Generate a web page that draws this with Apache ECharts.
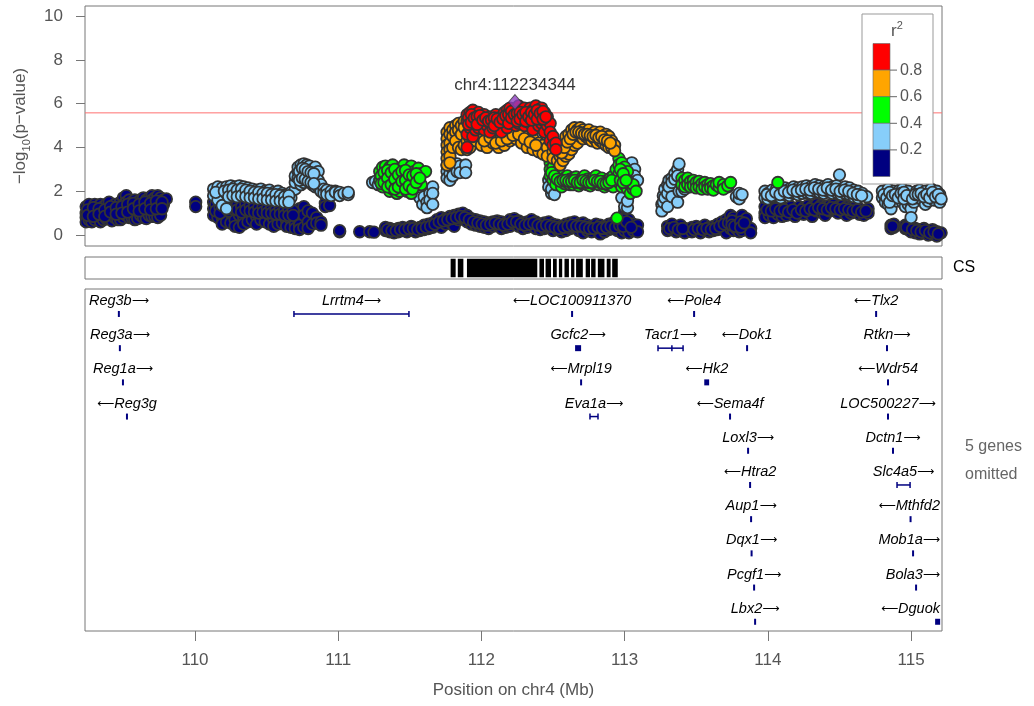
<!DOCTYPE html>
<html><head><meta charset="utf-8">
<script src="https://cdn.jsdelivr.net/npm/echarts@6/dist/echarts.min.js"></script>
<style>html,body{margin:0;padding:0;background:#fff}#c{width:1034px;height:706px}</style>
</head><body><div id="c"></div>
<script>
// ---------- DATA ----------
// rows: [position (Mb), -log10(p) values at that position ...]
const navyRows = [
[109.24,1.3,1.0,0.8,0.6],[109.26,1.4,1.1,0.7],[109.28,1.2,0.9,0.6],[109.30,1.4,1.0,0.7],[109.32,1.3,1.1,0.8],
[109.34,1.4,1.2,0.6],[109.36,1.3,0.9,0.7],[109.38,1.4,1.0,0.75],[109.40,1.5,1.2,0.8],[109.42,1.3,1.0,0.65],
[109.44,1.4,1.1,0.8],[109.46,1.2,0.9,0.7],[109.48,1.5,1.0,0.7],[109.50,1.7,1.4,1.1,0.8],[109.52,1.8,1.5,1.2,0.9],
[109.54,1.6,1.3,1.0,0.8],[109.56,1.5,1.3,1.1,0.8],[109.58,1.6,1.4,0.9,0.7],[109.60,1.5,1.2,1.0,0.75],[109.62,1.6,1.3,0.9],
[109.64,1.7,1.4,1.1,0.8],[109.66,1.6,1.3,1.0,0.75],[109.68,1.7,1.5,0.9],[109.70,1.8,1.6,1.2,0.85],[109.72,1.7,1.4,0.85],
[109.74,1.8,1.5,1.1,0.8],[109.76,1.7,1.4,0.9],[109.78,1.6,1.4],[109.80,1.65],
[109.25,1.15,0.9],[109.29,1.25,0.85],[109.33,1.2,0.95],[109.37,1.15,0.85],[109.41,1.3,1.05],[109.45,1.25,0.95],
[109.49,1.3,1.0],[109.53,1.4,1.05],[109.57,1.45,1.2],[109.61,1.4,1.1],[109.65,1.5,1.2],[109.69,1.45,1.15],
[109.73,1.55,1.2],[109.77,1.5,1.2],
[110.005,1.5,1.3],
[110.13,1.5,1.2,0.9],[110.16,1.3,1.0,0.8],[110.19,1.1,0.8,0.5],[110.22,1.4,0.9,0.6],[110.25,1.3,1.0,0.55],
[110.28,1.5,1.1,0.7,0.4],[110.31,1.4,0.9,0.35],[110.34,1.2,0.8,0.5],[110.37,1.3,1.0,0.6],[110.40,1.4,0.9,0.7],
[110.43,1.2,0.85,0.5],[110.46,1.3,0.95,0.7],[110.49,1.1,0.8,0.6],[110.52,1.2,0.9,0.5],[110.55,1.1,0.7,0.4],
[110.58,1.0,0.75,0.5],[110.61,1.05,0.8,0.55],[110.64,0.9,0.65,0.4],[110.67,1.0,0.7,0.35],[110.70,0.8,0.5,0.3],
[110.73,1.2,0.7,0.45,0.25],[110.76,1.3,0.9,0.35],[110.79,1.1,0.6,0.3],[110.82,1.0,0.5],[110.85,0.8,0.55],
[110.88,0.6,0.45],[110.91,1.45,1.3],[110.94,1.35],
[110.145,1.4,1.1],[110.175,1.25,1.0],[110.235,1.3,1.1],[110.265,1.4,1.2],[110.295,1.35,1.15],[110.325,1.3,1.05],
[110.355,1.4,1.15],[110.385,1.35,1.1],[110.415,1.3,1.05],[110.445,1.25,1.0],[110.475,1.3,1.05],[110.505,1.2,1.0],
[110.535,1.25,1.0],[110.565,1.15,0.95],[110.595,1.2,0.95],[110.625,1.1,0.9],[110.655,1.15,0.9],[110.685,1.1,0.9],
[111.01,0.15,0.2],[111.15,0.15],[111.22,0.15],[111.25,0.13],
[111.33,0.2,0.35],[111.36,0.15,0.3],[111.39,0.25,0.1],[111.42,0.3,0.15],[111.45,0.2,0.35],[111.48,0.15,0.3],
[111.51,0.25,0.4],[111.54,0.3,0.15],[111.57,0.35,0.2],[111.60,0.45,0.25],[111.63,0.5,0.3],[111.66,0.55,0.35],
[111.69,0.7,0.45],[111.72,0.8,0.55,0.35],[111.75,0.75,0.5],[111.78,0.85,0.6],[111.81,0.9,0.65,0.4],
[111.84,0.95,0.7],[111.87,1.0,0.75],[111.90,0.9,0.6],[111.93,0.75,0.5],[111.96,0.7,0.45],[111.99,0.65,0.4],
[112.02,0.6,0.35],[112.05,0.55,0.3],[112.08,0.6,0.4],[112.11,0.65,0.45],[112.14,0.6,0.3],[112.17,0.55,0.35],
[112.20,0.7,0.4],[112.23,0.75,0.5],[112.26,0.65,0.4],[112.29,0.55,0.3],[112.32,0.6,0.35],[112.35,0.7,0.45],
[112.38,0.6,0.3],[112.41,0.5,0.25],[112.44,0.55,0.3],[112.47,0.6,0.35],[112.50,0.5,0.2],[112.53,0.45,0.25],
[112.56,0.4,0.15],[112.59,0.5,0.2],[112.62,0.55,0.3],[112.65,0.6,0.35],[112.68,0.5,0.2],[112.71,0.55,0.3,0.1],
[112.74,0.45,0.2],[112.77,0.4,0.15],[112.80,0.5,0.25],[112.83,0.45,0.2,0.05],[112.86,0.4,0.15],[112.89,0.5,0.25],
[112.92,0.55,0.3],[112.95,0.45,0.2],[112.98,0.6,0.35,0.1],[113.00,1.1,0.8,0.5,0.2],[113.03,0.7,0.4,0.1],
[113.06,0.5,0.2],[113.09,0.45,0.15],
[111.345,0.25],[111.375,0.2],[111.405,0.2],[111.435,0.25],[111.465,0.25],[111.495,0.3],[111.525,0.3],[111.555,0.25],
[111.585,0.3],[111.615,0.35],[111.645,0.4],[111.675,0.5],[111.705,0.6],[111.735,0.65],[111.765,0.7],[111.795,0.75],
[111.825,0.8],[111.855,0.85],[111.885,0.8],[111.915,0.7],[111.945,0.6],[111.975,0.55],[112.005,0.5],[112.035,0.45],
[112.065,0.5],[112.095,0.55],[112.125,0.5],[112.155,0.45],[112.185,0.5],[112.215,0.6],[112.245,0.6],[112.275,0.5],
[112.305,0.45],[112.335,0.5],[112.365,0.55],[112.395,0.45],[112.425,0.4],[112.455,0.45],[112.485,0.4],[112.515,0.35],
[112.545,0.3],[112.575,0.35],[112.605,0.4],[112.635,0.45],[112.665,0.4],[112.695,0.4],[112.725,0.35],[112.755,0.3],
[112.785,0.3],[112.815,0.35],[112.845,0.3],[112.875,0.35],[112.905,0.4],[112.935,0.35],[112.965,0.45],[112.99,0.7,0.4],
[113.015,0.6],[113.045,0.35],
[113.30,0.4,0.2],[113.33,0.5,0.25],[113.36,0.35,0.15],[113.39,0.45,0.2],[113.42,0.3,0.1],[113.47,0.35,0.15],
[113.50,0.4,0.2],[113.53,0.3,0.1],[113.56,0.45,0.2],[113.59,0.35,0.15],[113.62,0.4,0.2],[113.65,0.5,0.25],
[113.68,0.6,0.3],[113.71,0.7,0.4,0.1],[113.74,0.9,0.6,0.3],[113.76,0.8,0.5,0.2],[113.78,0.6,0.3],[113.80,0.4,0.15],
[113.82,0.9,0.5,0.2],[113.85,0.75,0.4],[113.88,0.3,0.1],
[113.315,0.3],[113.345,0.35],[113.375,0.25],[113.405,0.3],[113.485,0.25],[113.515,0.3],[113.545,0.25],[113.575,0.3],
[113.605,0.25],[113.635,0.3],[113.665,0.4],[113.695,0.5],[113.725,0.55],[113.75,0.65,0.45],[113.77,0.4],
[113.81,0.6,0.35],[113.835,0.55],
[113.98,1.3,1.0,0.8],[114.01,1.2,0.9],[114.04,1.35,1.05,0.8],[114.07,1.25,0.95],[114.10,1.3,1.0,0.85],
[114.13,1.2,0.9],[114.16,1.3,1.05],[114.19,1.15,0.85],[114.22,1.3,1.0],[114.25,1.25,0.95],[114.28,1.35,1.05],
[114.31,1.3,1.0,0.85],[114.34,1.4,1.1],[114.37,1.35,1.05],[114.40,1.3,1.0,0.9],[114.43,1.35,1.1],[114.46,1.4,1.15],
[114.49,1.3,1.0],[114.52,1.35,1.1],[114.55,1.3,1.05,0.9],[114.58,1.25,1.0],[114.61,1.3,1.05],[114.64,1.2,0.95],
[114.67,1.1,0.9],[114.70,1.2,1.0],
[113.995,1.15],[114.025,1.1],[114.055,1.2],[114.085,1.1],[114.115,1.15],[114.145,1.05],[114.175,1.15],[114.205,1.0],
[114.235,1.15],[114.265,1.1],[114.295,1.2],[114.325,1.15],[114.355,1.25],[114.385,1.2],[114.415,1.15],[114.445,1.25],
[114.475,1.2],[114.505,1.15],[114.535,1.2],[114.565,1.15],[114.595,1.1],[114.625,1.15],[114.655,1.05],[114.685,1.1],
[114.86,0.45,0.3],[114.88,0.5,0.35],[114.96,0.45,0.3],[114.98,0.5,0.25],[115.00,0.35,0.15],[115.03,0.3,0.1],
[115.06,0.25,0.05],[115.09,0.3,0.1],[115.12,0.2,0.0],[115.15,0.25,0.05],[115.18,0.15,-0.05],[115.21,0.1],
[114.87,0.4],[114.97,0.35],[115.01,0.25],[115.04,0.2],[115.07,0.15],[115.10,0.2],[115.13,0.1],[115.16,0.15],[115.19,0.05]
];
const lightBlueRows = [
[110.13,2.1,1.8],[110.16,2.2,1.6],[110.19,2.15,1.35],[110.22,2.2,1.9,1.2],[110.25,2.25,2.0],[110.28,2.2,1.9],
[110.31,2.25,1.95],[110.34,2.2,2.0],[110.37,2.15,1.9],[110.40,2.1,1.85],[110.43,2.05,1.9],[110.46,2.1,1.8],
[110.49,2.0,1.75],[110.52,2.05,1.8],[110.55,1.95,1.7],[110.58,2.0,1.75],[110.61,1.9,1.8],[110.64,1.85,1.6],
[110.67,1.95,1.7],[110.70,2.1,2.4,2.7],[110.72,2.9,3.1,2.6],[110.74,3.2,3.0,2.8,2.3],[110.76,3.25,2.9,2.4],
[110.78,3.1,3.2,2.7],[110.80,3.15,2.9,2.5],[110.82,3.0,2.75,2.3],[110.84,3.1,2.6,2.2],[110.86,2.9,2.5,2.2],
[110.88,2.3,2.0],[110.90,2.1,1.9],[110.92,2.05,1.85],[110.95,2.0,1.8],[110.98,2.0,1.95],[111.01,1.95,1.8],
[111.04,1.9],[111.07,1.85,1.95],
[110.145,1.95],[110.205,2.0],[110.235,2.05,1.75],[110.265,2.1,1.8],[110.295,2.05,1.75],[110.325,2.1,1.8],
[110.355,2.05,1.75],[110.385,2.0,1.7],[110.415,1.95,1.7],[110.445,1.95,1.65],[110.475,1.9,1.65],[110.505,1.9,1.6],
[110.535,1.85,1.6],[110.565,1.85,1.55],[110.595,1.8,1.55],[110.625,1.75,1.5],[110.655,1.8,1.5],[110.73,2.9,2.5],
[110.75,3.05,2.6],[110.77,3.0,2.55],[110.79,2.9,2.45],[110.81,2.85,2.4],[110.83,2.8,2.35],
[111.24,2.4],[111.26,2.45],[111.28,2.3],
[111.55,2.0],[111.57,1.7],[111.59,1.4],[111.60,1.75],[111.62,1.5,1.25],[111.64,1.9,1.6],[111.66,2.2,1.9,1.4],
[111.76,3.2,2.9,2.6],[111.78,3.1,2.8,2.5],[111.80,3.3,3.0,2.7],[111.83,3.25,2.9],[111.85,3.15,2.85],[111.89,3.2,2.85],
[112.47,2.5,2.2],[112.49,1.9,2.1],[112.51,1.85],
[112.98,1.7],[113.00,1.3],[113.02,1.25,1.55],[113.05,3.3],[113.07,3.0,2.7],[113.09,2.5],
[113.26,1.4,1.1],[113.27,1.8,1.5],[113.28,2.1,1.7],[113.30,2.3,1.9,1.3],[113.31,2.5,2.2],[113.33,2.6,2.4,1.75],
[113.35,2.8,2.55],[113.37,3.0,2.7,1.5],[113.38,3.25,2.0],[113.40,2.3,2.0],[113.42,2.1],
[113.72,2.2],[113.78,1.75],[113.80,1.65,1.9],[113.82,1.85],
[113.98,2.0,1.7],[114.00,1.9,1.65],[114.03,2.05,1.75],[114.06,2.1,1.8],[114.09,2.0,1.7],[114.12,2.15,1.85],
[114.15,2.1,1.8],[114.18,2.2,1.9],[114.21,2.15,1.85],[114.24,2.2,1.9],[114.27,2.25,1.95],[114.30,2.2,1.9],
[114.33,2.3,2.0],[114.36,2.25,1.95],[114.39,2.2,1.9],[114.42,2.3,2.0],[114.45,2.2,1.9],[114.48,2.25,1.95],
[114.50,2.75],[114.51,2.1,1.85],[114.54,2.2,1.9],[114.57,2.15,1.85],[114.60,2.05,1.75],[114.63,2.0,1.7],
[114.66,1.9],[114.69,1.75],
[113.995,1.85],[114.025,1.8],[114.055,1.95],[114.085,1.85],[114.115,2.0],[114.145,1.95],[114.175,2.05],[114.205,2.0],
[114.235,2.05],[114.265,2.1],[114.295,2.05],[114.325,2.15],[114.355,2.1],[114.385,2.05],[114.415,2.15],[114.445,2.05],
[114.475,2.1],[114.505,2.0],[114.535,2.05],[114.565,2.0],[114.595,1.9],[114.625,1.85],[114.655,1.8],
[114.80,2.0,1.7],[114.82,1.85,1.5],[114.84,2.1,1.8,1.4],[114.86,1.9,1.6,1.2],[114.88,2.0,1.7],[114.90,1.9,1.55],
[114.92,2.05,1.75],[114.94,2.1,1.8,1.5],[114.96,1.9,1.6,1.3],[114.98,2.0,1.7,1.4],[115.00,1.5,1.2,0.8],
[115.02,1.8,1.5],[115.04,2.0,1.7],[115.06,2.05,1.75],[115.08,1.9,1.6],[115.10,2.0,1.7,1.4],[115.12,1.85,1.55],
[115.14,2.1,1.8],[115.16,1.9,1.6],[115.18,2.0,1.75],[115.20,1.85,1.5],[115.22,1.7],
[114.81,1.85],[114.83,1.7],[114.85,1.95,1.5],[114.87,1.8],[114.89,1.85],[114.91,1.7],[114.93,1.9],[114.95,1.95,1.65],
[114.97,1.8],[115.01,1.65],[115.03,1.85],[115.05,1.85],[115.07,1.9],[115.09,1.75],[115.11,1.85],[115.13,1.7],
[115.15,1.95],[115.17,1.75],[115.19,1.85],[115.21,1.65]
];
const greenRows = [
[111.29,2.9,2.5],[111.31,3.1,2.6,2.2],[111.33,3.15,2.8,2.4],[111.36,3.1,2.5,2.0],[111.38,3.2,2.7,2.1],
[111.41,2.9,2.4,1.9],[111.43,3.05,2.6,2.0],[111.46,3.2,2.7,2.2],[111.48,2.8,2.4,2.0],[111.51,3.15,2.5,1.9],
[111.53,2.9,2.3],[111.56,3.05,2.6],[111.58,2.8,2.3],[111.61,2.9],
[111.30,2.7,2.35],[111.32,2.85,2.4],[111.345,2.95,2.6,2.2],[111.37,2.85,2.3],[111.395,3.0,2.55,2.1],[111.42,2.75,2.2],
[111.445,2.9,2.45],[111.47,2.95,2.5,2.1],[111.495,2.75,2.25],[111.52,2.7,2.1],[111.545,2.8,2.4],[111.57,2.6],
[112.48,3.3,3.0,2.7],[112.50,3.1,2.8,2.5],[112.52,2.9,2.6,2.3],[112.54,2.8,2.5],[112.56,2.7,2.4,2.2],
[112.58,2.6,2.35],[112.60,2.7,2.4],[112.62,2.55,2.3],[112.64,2.6,2.3],[112.66,2.65,2.4],[112.68,2.5,2.25],
[112.70,2.6,2.35],[112.72,2.7,2.4],[112.74,2.55,2.3],[112.76,2.5,2.25],[112.78,2.6,2.35],[112.80,2.7,2.4],
[112.82,2.5,2.3],[112.84,2.6,2.35],[112.86,2.45,2.2],[112.88,2.5,2.3],[112.90,2.6,2.4],[112.92,2.7,2.2],
[112.94,3.0,2.5],[112.947,0.77],[112.96,3.5,3.2,2.8,2.4],[112.98,3.3,3.0,2.6,2.2],[113.00,3.1,2.7,2.3],
[113.02,2.9,2.5,2.1],[113.04,2.3,1.9],[113.06,2.1,2.3],[113.08,2.0],
[112.49,2.85],[112.51,2.7],[112.53,2.55],[112.55,2.45],[112.57,2.5],[112.59,2.5],[112.61,2.45],[112.63,2.45],
[112.65,2.5],[112.67,2.4],[112.69,2.4],[112.71,2.5],[112.73,2.45],[112.75,2.4],[112.77,2.4],[112.79,2.5],
[112.81,2.45],[112.83,2.45],[112.85,2.35],[112.87,2.35],[112.89,2.4],[112.91,2.5],[112.97,3.0,2.5],[112.99,2.8,2.4],
[113.01,2.5],
[113.40,2.6,2.3],[113.42,2.5,2.2],[113.44,2.6,2.3],[113.46,2.45,2.2],[113.48,2.5,2.25],[113.50,2.4,2.15],
[113.52,2.45,2.2],[113.54,2.35,2.1],[113.56,2.4,2.2],[113.58,2.3,2.1],[113.60,2.35,2.15],[113.62,2.25,2.05],
[113.64,2.3],[113.66,2.2,2.4],[113.69,2.3,2.1],[113.72,2.25],[113.74,2.4],
[114.07,2.4]
];
const orangeRows = [
[111.76,4.7,4.4,4.1,3.8,3.5,3.2],[111.78,4.9,4.6,4.2,3.9,3.6,3.3],[111.80,4.8,4.5,4.0],[111.82,5.0,4.7,4.3],
[111.84,5.1,4.8,4.0],[111.86,5.0,4.6,3.9],[111.88,5.2,4.9,4.1],[111.90,4.3,3.9],[111.92,4.4,4.0],[111.96,4.3],
[112.00,4.5,4.1],[112.04,4.3,4.0],[112.08,4.6,4.2],[112.12,4.4,4.0],[112.16,4.5,4.1],[112.20,4.7,4.3],
[112.24,4.8,4.4],[112.28,4.6,4.2],[112.32,4.5,4.0],[112.36,4.4,3.9],[112.40,4.2,3.8],[112.43,4.1,3.7],
[112.46,4.0,3.6],[112.50,3.8,3.5],[112.53,3.9,3.4],[112.55,3.9,3.6,3.2],[112.57,4.2,3.8,3.4],
[112.59,4.5,4.0,3.6],[112.61,4.6,4.2,3.7],[112.63,4.8,4.4,3.9],[112.65,4.9,4.5,4.1],[112.67,4.8,4.6,4.2],
[112.69,4.9,4.5],[112.71,4.8,4.4],[112.73,4.7,4.5],[112.75,4.8,4.4],[112.77,4.6,4.3],[112.79,4.7,4.4],
[112.81,4.6,4.2],[112.83,4.7,4.3],[112.85,4.5,4.2],[112.87,4.6,4.1],[112.89,4.5,4.0],[112.91,4.3,4.0],
[112.93,4.1,3.85],
[112.02,4.3],[112.06,4.45],[112.10,4.2],[112.14,4.3],[112.18,4.4],[112.22,4.55],[112.26,4.6],[112.30,4.4],
[112.34,4.25],[112.38,4.1],[112.56,3.75],[112.58,4.0],[112.60,4.25],[112.62,4.4],[112.64,4.6],[112.66,4.7],
[112.68,4.7],[112.70,4.65],[112.72,4.6],[112.74,4.6],[112.76,4.55],[112.78,4.5],[112.80,4.55],[112.82,4.45],
[112.84,4.5],[112.86,4.35],[112.88,4.3],[112.90,4.2]
];
const redRows = [
[111.90,5.5,5.2,4.6,4.0],[111.92,5.6,5.3,4.9],[111.94,5.7,5.4,5.0,4.5],[111.96,5.5,5.2,4.8],[111.98,5.6,5.3,4.9],
[112.00,5.4,5.1],[112.02,5.5,5.2,4.8],[112.04,5.3,5.0],[112.06,5.4,5.1,4.7],[112.08,5.2,4.9],[112.10,5.5,5.1],
[112.12,5.3,5.0],[112.14,5.4,5.1,4.7],[112.16,5.6,5.2],[112.18,5.7,5.3,4.9],[112.20,5.8,5.5,5.1],[112.22,5.6,5.3],
[112.24,5.7,5.4,5.0],[112.26,5.9,5.5,5.1],[112.28,5.7,5.3],[112.30,5.8,5.4,5.0],[112.32,5.6,5.2],
[112.34,5.8,5.5,5.1],[112.36,5.7,5.3,4.8],[112.38,5.9,5.5],[112.40,5.7,5.4,5.0],[112.42,5.8,5.5,5.1],
[112.44,5.6,5.2,4.7],[112.46,5.4,5.0],[112.48,5.1,4.7,4.3],[112.50,4.5,4.1],[112.52,4.2,3.9],
[111.91,5.35,5.05],[111.93,5.5,5.15],[111.95,5.35],[111.97,5.4,5.05],[111.99,5.45],[112.01,5.25],[112.03,5.35],
[112.05,5.2],[112.07,5.25],[112.09,5.35,5.0],[112.11,5.3],[112.13,5.15],[112.15,5.3],[112.17,5.45],[112.19,5.5,5.1],
[112.21,5.65,5.35],[112.23,5.5],[112.25,5.55,5.2],[112.27,5.6,5.3],[112.29,5.5],[112.31,5.6,5.2],[112.33,5.4],
[112.35,5.6,5.25],[112.37,5.5],[112.39,5.7,5.3],[112.41,5.55],[112.43,5.65,5.3],[112.45,5.4]
];
const leadSnp = {name:'chr4:112234344', pos:112.234344, logp:6.07};
const sigLine = 5.58;

const r2Colors = ['#FF0000','#FFA500','#00FF00','#87CEFA','#000080'];
const r2Labels = ['0.8','0.6','0.4','0.2'];

const xTicks = [110,111,112,113,114,115];
const yTicks = [0,2,4,6,8,10];

// credible set intervals (Mb)
const csIntervals = [
[111.785,111.820],[111.835,111.874],[111.899,112.390],[112.405,112.437],[112.448,112.486],
[112.500,112.526],[112.541,112.564],[112.580,112.611],[112.626,112.649],[112.661,112.708],
[112.728,112.758],[112.766,112.797],[112.813,112.859],[112.875,112.902],[112.913,112.952]
];

// genes: name, start, end (Mb), strand, row
const geneNames   = ['Reg3b','Lrrtm4','LOC100911370','Pole4','Tlx2',
                     'Reg3a','Gcfc2','Tacr1','Dok1','Rtkn',
                     'Reg1a','Mrpl19','Hk2','Wdr54',
                     'Reg3g','Eva1a','Sema4f','LOC500227',
                     'Loxl3','Dctn1','Htra2','Slc4a5','Aup1','Mthfd2',
                     'Dqx1','Mob1a','Pcgf1','Bola3','Lbx2','Dguok'];
const geneStart   = [109.466,110.691,112.631,113.483,114.754,
                     109.473,112.654,113.233,113.853,114.825,
                     109.495,112.694,113.556,114.837,
                     109.522,112.758,113.729,114.837,
                     113.855,114.867,113.874,114.902,113.881,114.993,
                     113.883,115.007,113.902,115.033,113.909,115.168];
const geneEnd     = [109.471,111.494,112.635,113.487,114.758,
                     109.478,112.696,113.408,113.857,114.839,
                     109.499,112.698,113.590,114.841,
                     109.528,112.814,113.743,114.841,
                     113.869,114.881,113.878,114.993,113.885,115.000,
                     113.890,115.021,113.906,115.037,113.913,115.203];
const geneStrand  = ['+','+','-','-','-',
                     '+','+','+','-','+',
                     '+','-','-','-',
                     '-','+','-','+',
                     '+','+','-','+','+','-',
                     '+','+','+','+','+','-'];
const geneRow     = [0,0,0,0,0, 1,1,1,1,1, 2,2,2,2, 3,3,3,3, 4,4,5,5,6,6, 7,7,8,8,9,9];
const geneExonMarks = {Tacr1:[113.33]};
const omittedNote = ['5 genes','omitted'];

// ---------- BUILD ----------
function expand(rows){const o=[];rows.forEach(r=>{for(let i=1;i<r.length;i++)o.push([r[0],r[i]]);});return o;}
const XMIN=109.232, XMAX=115.216;
const FONT='"Liberation Sans", Arial, Helvetica, sans-serif';
const AFONT='"DejaVu Sans", "Liberation Sans", sans-serif';
const AXC='#555';
const chart = echarts.init(document.getElementById('c'), null, {renderer:'canvas'});

const mctx = document.createElement('canvas').getContext('2d');
function tw(t, f){mctx.font=f;return mctx.measureText(t).width;}
const GFS=14.5, AFS=12;

function sc(name, rows, color){
  return {type:'scatter', name, xAxisIndex:0, yAxisIndex:0, data:expand(rows), symbolSize:11.5,
    itemStyle:{color, borderColor:'#333', borderWidth:1.8, opacity:1}, z:3, silent:true, animation:false};
}

const genes = geneNames.map((n,i)=>({name:n,start:geneStart[i],end:geneEnd[i],strand:geneStrand[i],row:geneRow[i]}));

const option = {
  animation:false,
  textStyle:{fontFamily:FONT},
  grid:[
    {left:85, top:6, width:857, height:240, show:true, borderColor:'#777', borderWidth:1, containLabel:false},
    {left:85, top:257, width:857, height:22, show:true, borderColor:'#777', borderWidth:1},
    {left:85, top:289, width:857, height:342, show:true, borderColor:'#777', borderWidth:1}
  ],
  xAxis:[
    {gridIndex:0, type:'value', min:XMIN, max:XMAX, axisLine:{show:false}, axisTick:{show:false}, axisLabel:{show:false}, splitLine:{show:false}},
    {gridIndex:1, type:'value', min:XMIN, max:XMAX, axisLine:{show:false}, axisTick:{show:false}, axisLabel:{show:false}, splitLine:{show:false}},
    {gridIndex:2, type:'value', min:XMIN, max:XMAX, position:'bottom', axisLine:{show:false, onZero:false},
      axisTick:{show:true, customValues:xTicks, length:10, inside:false, lineStyle:{color:'#777'}},
      axisLabel:{show:true, customValues:xTicks, margin:21, fontSize:17, color:AXC, fontFamily:FONT},
      splitLine:{show:false},
      name:'Position on chr4 (Mb)', nameLocation:'middle', nameGap:51,
      nameTextStyle:{fontSize:17, color:AXC, fontFamily:FONT}}
  ],
  yAxis:[
    {gridIndex:0, type:'value', min:-0.5, max:10.46, axisLine:{show:false, onZero:false},
      axisTick:{show:true, customValues:yTicks, length:9, lineStyle:{color:'#777'}},
      axisLabel:{show:true, customValues:yTicks, margin:22, fontSize:17, color:AXC, fontFamily:FONT},
      splitLine:{show:false},
      name:'{a|\u2212log}{s|10}{a|(p\u2212value)}', nameLocation:'middle', nameGap:53, nameRotate:90,
      nameTextStyle:{color:AXC, fontFamily:FONT, rich:{a:{fontSize:17, color:AXC, fontFamily:FONT, lineHeight:24}, s:{fontSize:11, color:AXC, fontFamily:FONT, lineHeight:24, verticalAlign:'bottom'}}}},
    {gridIndex:1, type:'value', min:0, max:1, show:false},
    {gridIndex:2, type:'value', min:0, max:10, inverse:true, show:false}
  ],
  series:[
    {type:'line', xAxisIndex:0, yAxisIndex:0, data:[[XMIN,sigLine],[XMAX,sigLine]], symbol:'none',
      lineStyle:{color:'#FF7070', width:1}, z:1, silent:true},
    sc('r2<0.2', navyRows, r2Colors[4]),
    sc('0.2-0.4', lightBlueRows, r2Colors[3]),
    sc('0.4-0.6', greenRows, r2Colors[2]),
    sc('0.6-0.8', orangeRows, r2Colors[1]),
    sc('>0.8', redRows, r2Colors[0]),
    {type:'scatter', xAxisIndex:0, yAxisIndex:0, data:[[leadSnp.pos, leadSnp.logp]], symbol:'diamond', symbolSize:[13,15],
      itemStyle:{color:'#8E3FC0', borderColor:'#333', borderWidth:1}, z:5,
      label:{show:true, position:'top', distance:0, formatter:leadSnp.name, fontSize:17, color:'#000', fontFamily:FONT}},
    {type:'custom', xAxisIndex:1, yAxisIndex:1, data:csIntervals, silent:true,
      renderItem:function(params, api){
        const a=api.coord([api.value(0),0.92]), b=api.coord([api.value(1),0.08]);
        return {type:'rect', shape:{x:a[0], y:a[1], width:Math.max(b[0]-a[0],1.5), height:b[1]-a[1]}, style:{fill:'#000'}};
      }},
    {type:'custom', xAxisIndex:2, yAxisIndex:2, silent:true,
      data:genes.map(g=>[g.start,g.end,g.row]),
      renderItem:function(params, api){
        const g = genes[params.dataIndex];
        const cs = params.coordSys;
        const s = api.coord([g.start, g.row+0.73]), e = api.coord([g.end, g.row+0.73]);
        const y = s[1], w = e[0]-s[0];
        const ch = [];
        const GC = '#000080';
        if (w < 7) {
          const cw = Math.max(w, 2);
          ch.push({type:'rect', shape:{x:(s[0]+e[0])/2-cw/2, y:y-3, width:cw, height:6}, style:{fill:GC}});
        } else {
          ch.push({type:'line', shape:{x1:s[0],y1:y,x2:e[0],y2:y}, style:{stroke:GC, lineWidth:1.5}});
          ch.push({type:'line', shape:{x1:s[0],y1:y-3,x2:s[0],y2:y+3}, style:{stroke:GC, lineWidth:1.5}});
          ch.push({type:'line', shape:{x1:e[0],y1:y-3,x2:e[0],y2:y+3}, style:{stroke:GC, lineWidth:1.5}});
          (geneExonMarks[g.name]||[]).forEach(m=>{const p=api.coord([m,0])[0];
            ch.push({type:'line', shape:{x1:p,y1:y-3,x2:p,y2:y+3}, style:{stroke:GC, lineWidth:1.5}});});
        }
        const nf = 'italic '+GFS+'px '+FONT, af = AFS+'px '+AFONT;
        const arrowR = '\u27F6', arrowL = '\u27F5';
        const wName = tw(g.name, nf), wArr = tw(g.strand==='+'?arrowR:arrowL, af);
        const total = wName + wArr;
        let cx = (s[0]+e[0])/2;
        cx = Math.max(cs.x + total/2 + 3, Math.min(cs.x + cs.width - total/2 - 2, cx));
        const ly = api.coord([g.start, g.row+0.35])[1];
        const txt = g.strand==='+' ? '{n|'+g.name+'}{a|'+arrowR+'}' : '{a|'+arrowL+'}{n|'+g.name+'}';
        ch.push({type:'text', x:cx, y:ly, style:{text:txt, align:'center', verticalAlign:'middle', fill:'#000',
          rich:{n:{fontStyle:'italic', fontSize:GFS, fontFamily:FONT, fill:'#000'}, a:{fontSize:AFS, fontFamily:AFONT, fill:'#000'}}}});
        return {type:'group', children:ch};
      }}
  ],
  graphic:[]
};

// legend & side texts
const g = [];
const LX=862, LY=14, LW=71, LH=170, BX=873, BY=43.5, BW=17, BH=26.6;
g.push({type:'rect', shape:{x:LX, y:LY, width:LW, height:LH}, style:{fill:'#fff', stroke:'#999', lineWidth:1}, z:10});
g.push({type:'text', x:897, y:31, style:{text:'r{s|2}', font:'17px '+FONT, fill:AXC, align:'center', verticalAlign:'middle',
   rich:{s:{fontSize:11, fontFamily:FONT, fill:AXC, verticalAlign:'top', padding:[0,0,10,0]}}}, z:11});
r2Colors.forEach((c,i)=>{
  g.push({type:'rect', shape:{x:BX, y:BY+i*BH, width:BW, height:BH}, style:{fill:c, stroke:'#666', lineWidth:0.6}, z:11});
});
r2Labels.forEach((t,i)=>{
  const yy = BY+(i+1)*BH;
  g.push({type:'line', shape:{x1:BX+BW, y1:yy, x2:BX+BW+7, y2:yy}, style:{stroke:'#666', lineWidth:1}, z:11});
  g.push({type:'text', x:BX+BW+10, y:yy, style:{text:t, font:'16px '+FONT, fill:AXC, align:'left', verticalAlign:'middle'}, z:11});
});
g.push({type:'text', x:953, y:268, style:{text:'CS', font:'16px '+FONT, fill:'#000', align:'left', verticalAlign:'middle'}});
omittedNote.forEach((t,i)=>{
  g.push({type:'text', x:965, y:447+i*28, style:{text:t, font:'16px '+FONT, fill:'#666', align:'left', verticalAlign:'middle'}});
});
option.graphic = g;
chart.setOption(option);
</script></body></html>
